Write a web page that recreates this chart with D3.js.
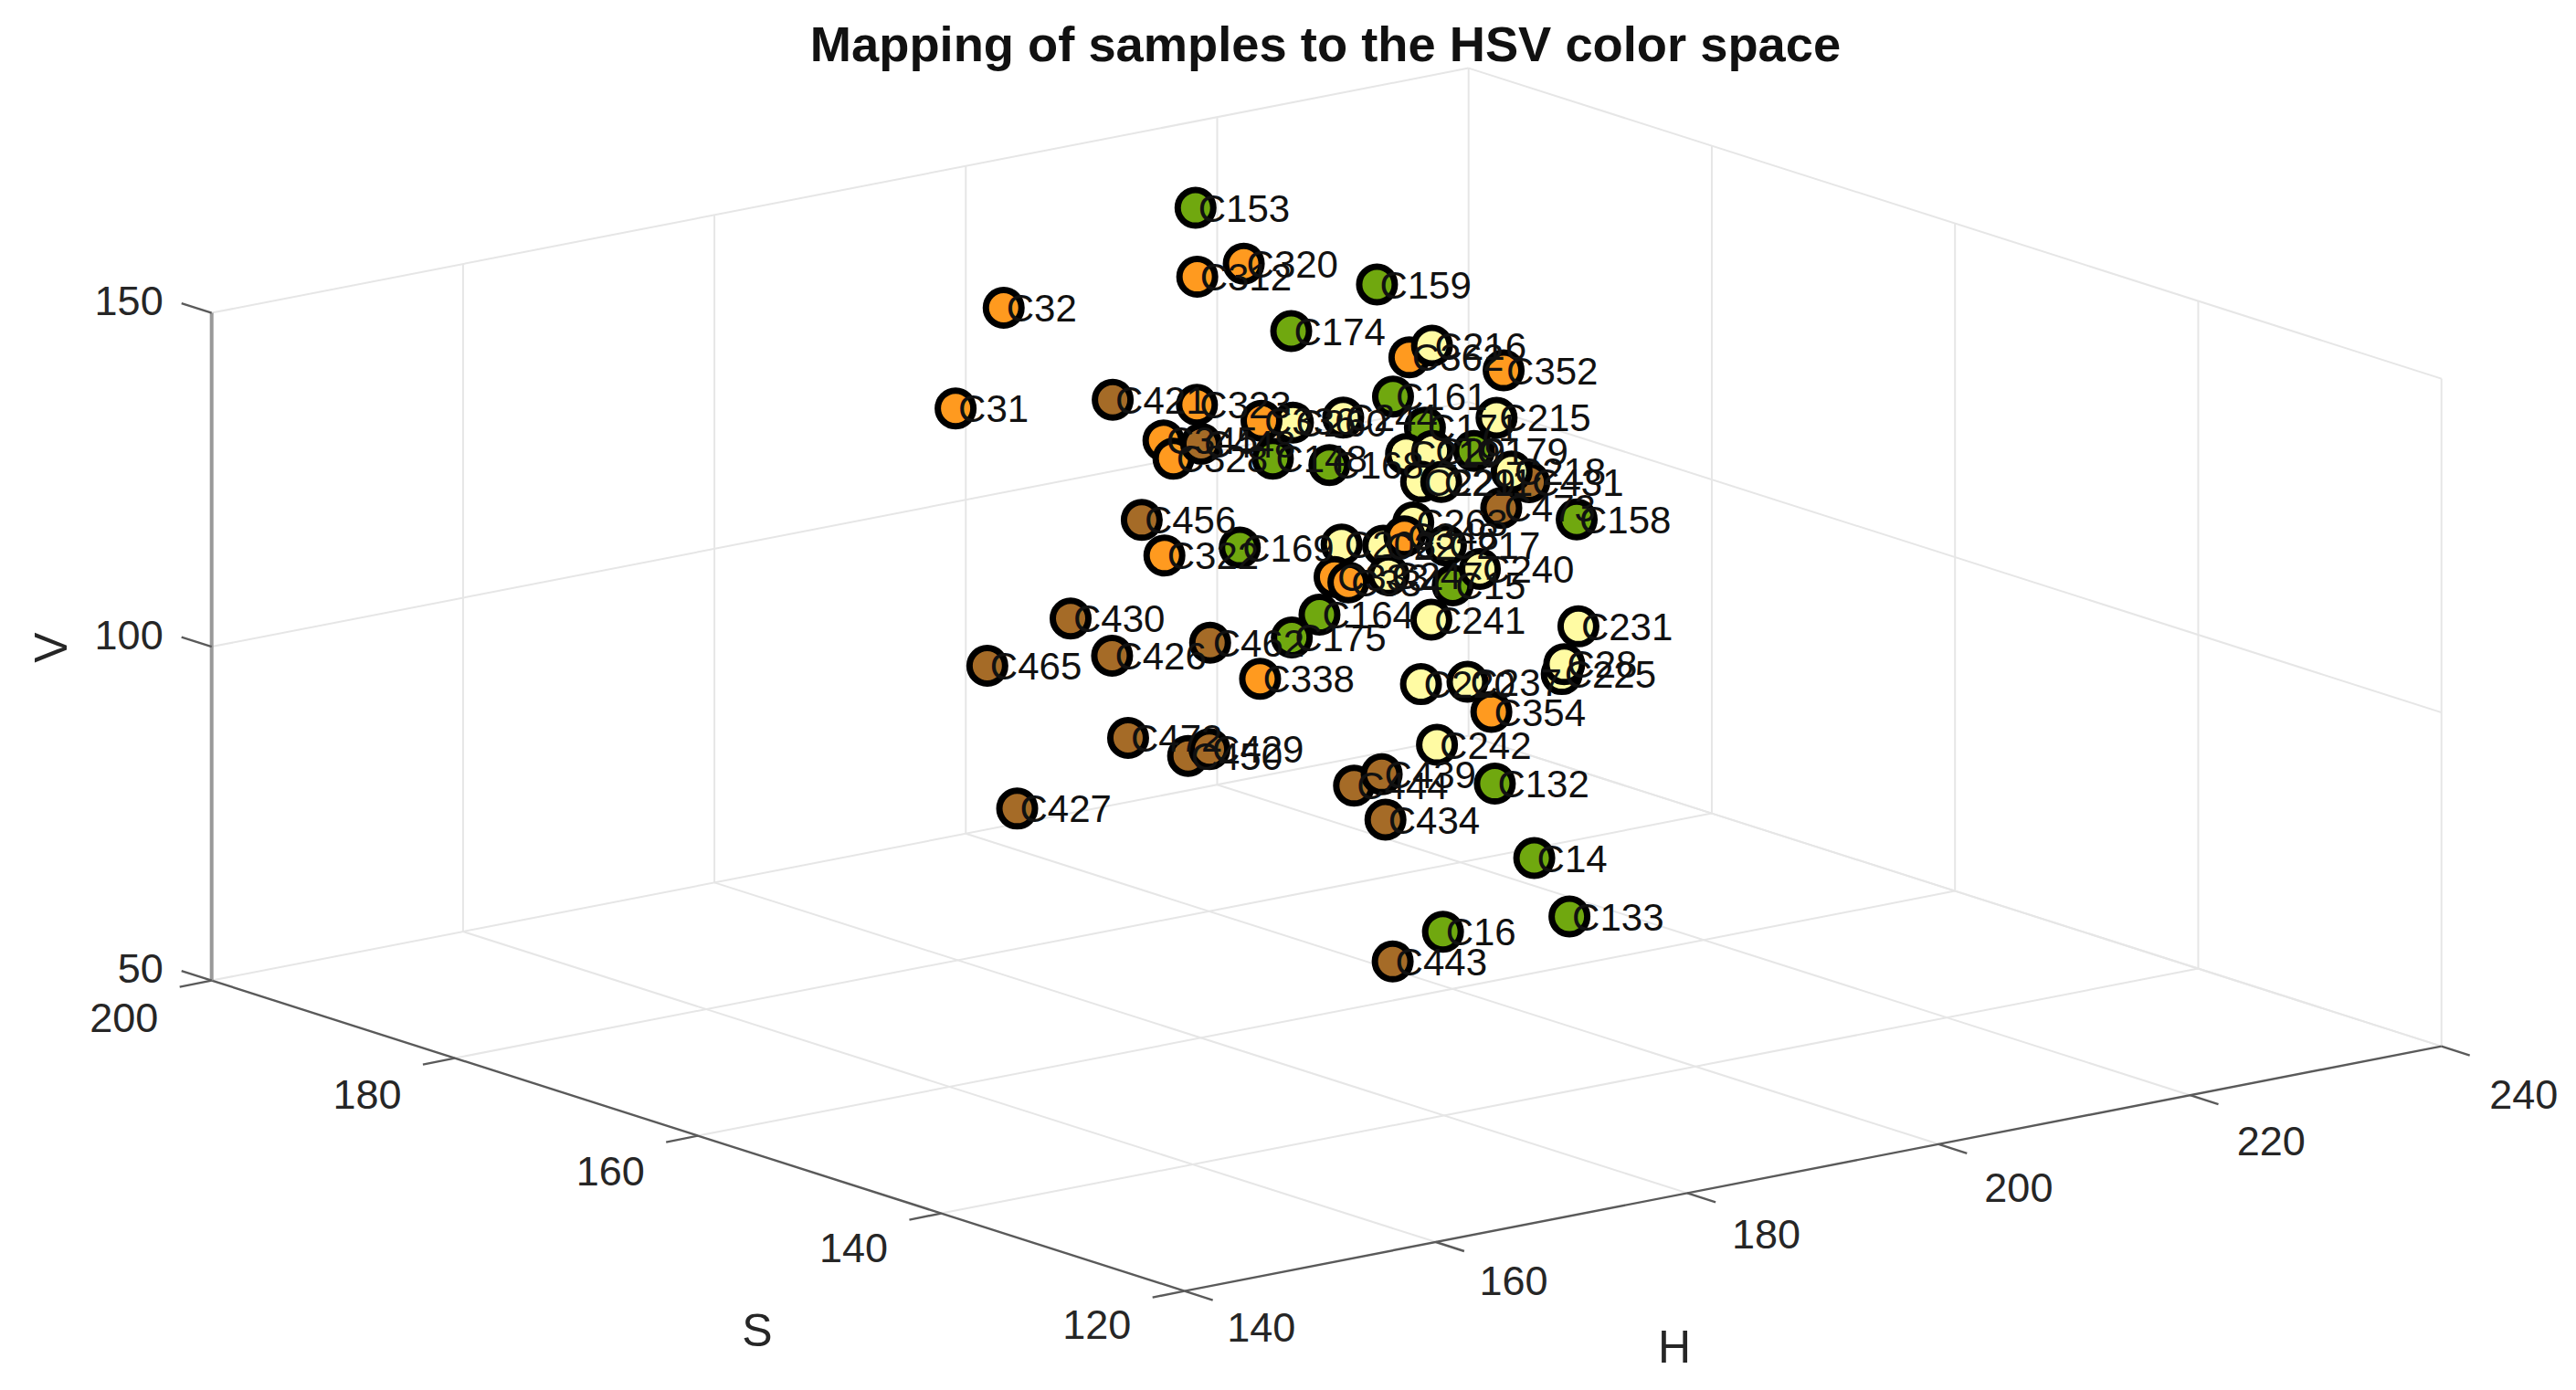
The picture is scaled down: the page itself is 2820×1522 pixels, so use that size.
<!DOCTYPE html>
<html>
<head>
<meta charset="utf-8">
<script src="https://cdn.jsdelivr.net/npm/d3@7"></script>
<style>
  html, body { margin: 0; padding: 0; background: #fff; }
  text { font-family: "Liberation Sans", Arial, sans-serif; }
</style>
</head>
<body>
<svg id="chart"></svg>
<script>
// samples in draw order
const names = ["C153","C159","C174","C312","C320","C32","C31","C362","C216","C352","C421","C323",
  "C161","C171","C215","C260","C336","C244","C219","C29","C179","C345","C328","C448","C148","C168",
  "C229","C211","C431","C218","C473","C158","C456","C322","C169","C208","C263","C22","C348","C217",
  "C15","C240","C333","C334","C247","C241","C231","C430","C426","C462","C175","C164","C465","C225",
  "C28","C338","C220","C237","C354","C472","C242","C450","C429","C444","C439","C132","C427","C434",
  "C14","C133","C16","C443"];
const hue = [208.6,218.2,201.7,203.9,207.6,188.5,175.0,211.1,212.9,218.6,187.5,194.2,
  209.8,207.5,213.2,197.0,194.5,201.0,206.0,208.1,211.4,186.7,187.5,189.7,195.4,199.9,
  207.2,208.8,215.8,214.4,203.9,209.9,175.3,177.1,183.1,191.2,196.9,194.5,196.2,199.5,
  195.2,202.2,185.8,186.9,190.1,193.5,205.2,164.8,168.1,175.9,182.4,184.6,148.5,194.2,
  194.4,170.2,183.0,186.7,188.6,159.7,174.6,154.8,156.5,168.0,170.2,179.2,141.2,170.5,
  177.5,180.3,165.4,161.4];
const sat = [190,185,175,185,185,185,175,175,175,175,175,175,
  175,170,170,170,170,170,170,170,170,170,170,170,170,170,
  170,170,170,170,160,160,160,160,160,160,160,160,160,160,
  155,160,155,155,155,155,155,155,155,155,155,155,145,145,
  145,145,145,145,145,145,135,135,135,135,135,135,135,135,
  130,130,125,125];
const val = [146.4,134.3,139.2,140.7,141.3,141.7,137.4,131.8,132.9,127.1,134.1,130.9,
  126.4,125.5,124.9,130.1,131.3,129.4,122.1,121.8,120.6,131.2,128.2,129.6,125.3,122.7,
  117.5,116.9,114.3,116.4,120.6,116.7,129.3,123.3,122.3,119.8,121.0,118.4,119.2,116.6,
  115.1,112.1,119.8,118.6,118.5,110.6,105.3,121.3,114.5,113.6,112.0,114.6,126.0,108.0,
  109.4,116.1,110.6,109.6,104.4,111.1,110.4,116.0,116.4,106.7,107.6,102.9,113.1,100.7,
  95.3,85.5,91.6,88.6];
// g green, y yellow, o orange, b brown
const kinds = ["g","g","g","o","o","o","o","o","y","o","b","o",
  "g","g","y","y","o","y","y","y","g","o","o","b","g","g",
  "y","y","b","y","b","g","b","o","g","y","y","y","o","y",
  "g","y","o","o","y","y","y","b","b","b","g","g","b","y",
  "y","o","y","y","o","b","y","b","b","b","b","g","b","b",
  "g","g","g","b"];

const hTicks = [140,160,180,200,220,240];
const sTicks = [120,140,160,180,200];
const vTicks = [50,100,150];

const colors = {g: "#70a80f", y: "#fffba3", o: "#ff9a1f", b: "#a56b27"};

const width = 2820, height = 1522;
const svg = d3.select("#chart").attr("width", width).attr("height", height)
  .style("display", "block");

// oblique axes of the 3-D box, all in pixels from the front floor corner
const hx = d3.scaleLinear().domain([140,240]).range([0,1376]);
const hy = d3.scaleLinear().domain([140,240]).range([0,-268]);
const sx = d3.scaleLinear().domain([120,200]).range([0,-1065]);
const sy = d3.scaleLinear().domain([120,200]).range([0,-340]);
const vy = d3.scaleLinear().domain([50,150]).range([0,-731]);
const x0 = 1296.7, y0 = 1413.6;

const px = (h, s) => x0 + hx(h) + sx(s);
const py = (h, s, v) => y0 + hy(h) + sy(s) + vy(v);
const seg = (a, b) => d3.line()([[px(a[0],a[1]), py(a[0],a[1],a[2])], [px(b[0],b[1]), py(b[0],b[1],b[2])]]);

const grid = svg.append("g").attr("fill", "none").attr("stroke", "#e6e6e6").attr("stroke-width", 2);
const gridLines = [];
hTicks.slice(1).forEach(h => {
  gridLines.push([[h,120,50],[h,200,50]]);   // floor
  gridLines.push([[h,200,50],[h,200,150]]);  // S wall
});
sTicks.slice(0,-1).forEach(s => {
  if (s > 120) gridLines.push([[140,s,50],[240,s,50]]);
  gridLines.push([[240,s,50],[240,s,150]]);  // H wall
});
gridLines.push([[140,200,50],[240,200,50]]);
vTicks.forEach(v => {
  if (v > 50) gridLines.push([[140,200,v],[240,200,v]]);
  if (v > 50) gridLines.push([[240,200,v],[240,120,v]]);
});
gridLines.push([[240,200,50],[240,120,50]]);
grid.selectAll("path").data(gridLines).join("path").attr("d", d => seg(d[0], d[1]));

// axis lines and ticks
const axes = svg.append("g").attr("fill", "none").attr("stroke", "#5a5a5a").attr("stroke-width", 2.4);
axes.append("path").attr("d", seg([140,120,50],[240,120,50]));
axes.append("path").attr("d", seg([140,120,50],[140,200,50]));
axes.append("path").attr("d", seg([140,200,50],[140,200,150])).attr("stroke", "#999").attr("stroke-width", 4);

hTicks.forEach(h => {
  const x = px(h,120), y = py(h,120,50);
  axes.append("line").attr("x1", x).attr("y1", y).attr("x2", x+31).attr("y2", y+10);
  svg.append("text").attr("class","tick").attr("x", x+84+(h-140)*0.06).attr("y", y+44+(h-140)*0.13).text(h);
});
sTicks.forEach(s => {
  const x = px(140,s), y = py(140,s,50);
  axes.append("line").attr("x1", x).attr("y1", y).attr("x2", x-35).attr("y2", y+7);
  svg.append("text").attr("class","tick").attr("x", x-96).attr("y", y+41+(s-120)*0.05).text(s);
});
vTicks.forEach(v => {
  const x = px(140,200), y = py(140,200,v);
  axes.append("line").attr("x1", x).attr("y1", y).attr("x2", x-33).attr("y2", y-10.5);
  svg.append("text").attr("class","tick").attr("x", x-53).attr("y", y-9).attr("text-anchor","end").text(v);
});
svg.selectAll("text.tick")
  .attr("text-anchor", function() { return this.getAttribute("text-anchor") || "middle"; })
  .attr("dominant-baseline", "middle")
  .attr("font-size", 45).attr("fill", "#262626");

const axisLabel = (t, x, y, rot) => svg.append("text").text(t)
  .attr("transform", `translate(${x},${y}) rotate(${rot})`)
  .attr("text-anchor", "middle").attr("dominant-baseline", "middle")
  .attr("font-size", 50).attr("fill", "#262626");
axisLabel("H", 1833, 1479, 0);
axisLabel("S", 829, 1461, 0);
axisLabel("V", 60, 709, -90);

svg.append("text").text("Mapping of samples to the HSV color space")
  .attr("x", 1451).attr("y", 53).attr("text-anchor", "middle").attr("dominant-baseline", "middle")
  .attr("font-size", 54.3).attr("font-weight", "bold").attr("fill", "#111");

// samples, then all the names above them
const samples = names.map((n, i) => ({n, h: hue[i], s: sat[i], v: val[i], k: kinds[i]}));
svg.append("g").selectAll("circle").data(samples).join("circle")
  .attr("cx", d => px(d.h, d.s)).attr("cy", d => py(d.h, d.s, d.v))
  .attr("r", 19.5).attr("fill", d => colors[d.k])
  .attr("stroke", "#000").attr("stroke-width", 7);
svg.append("g").selectAll("text").data(samples).join("text")
  .attr("x", d => px(d.h, d.s) + 3).attr("y", d => py(d.h, d.s, d.v) + 4)
  .attr("dominant-baseline", "middle").attr("font-size", 42).attr("fill", "#111")
  .text(d => d.n);
</script>
</body>
</html>
